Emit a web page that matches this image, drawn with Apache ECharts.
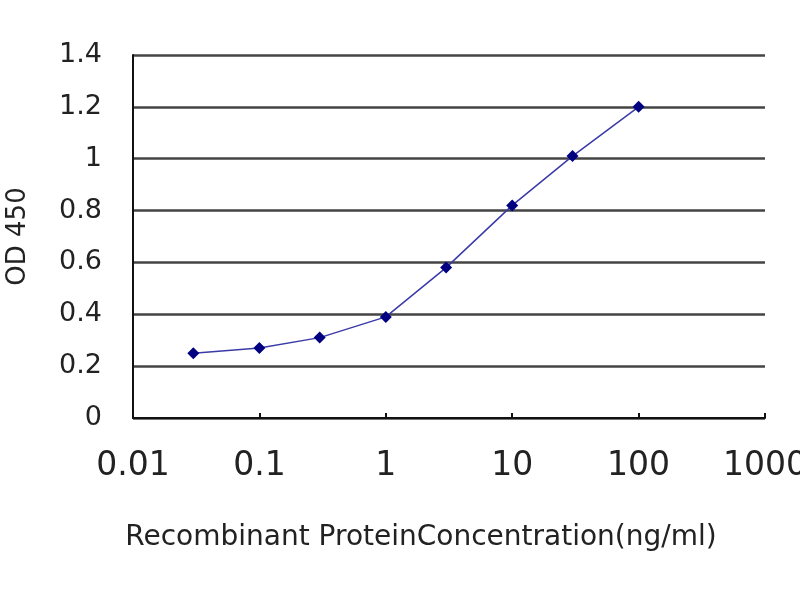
<!DOCTYPE html>
<html><head><meta charset="utf-8">
<script src="https://cdn.jsdelivr.net/npm/echarts@6/dist/echarts.min.js"></script>
<style>html,body{margin:0;padding:0;background:#fff}#c{width:800px;height:600px}</style>
</head><body><div id="c"></div>
<script>
const concentrations = [0.03, 0.1, 0.3, 1, 3, 10, 30, 100];
const odValues = [0.25, 0.27, 0.31, 0.39, 0.58, 0.82, 1.01, 1.20];
const xTickLabels = ['0.01', '0.1', '1', '10', '100', '1000'];
const yTickLabels = ['0', '0.2', '0.4', '0.6', '0.8', '1', '1.2', '1.4'];

const chart = echarts.init(document.getElementById('c'));
const font = 'DejaVu Sans, sans-serif';
chart.setOption({
  animation: false,
  grid: {left: 133, right: 35, top: 55, bottom: 182, outerBoundsMode: 'none', containLabel: false},
  xAxis: {
    type: 'log', logBase: 10, min: 0.01, max: 1000,
    name: 'Recombinant ProteinConcentration(ng/ml)',
    nameLocation: 'middle', nameGap: 106,
    nameTextStyle: {fontFamily: font, fontSize: 28, color: '#222', padding: [0, 56, 0, 0]},
    axisLine: {lineStyle: {color: '#111', width: 2}},
    axisTick: {show: true, inside: true, length: 5, lineStyle: {color: '#111', width: 2}},
    axisLabel: {
      fontFamily: font, fontSize: 33, color: '#222', margin: 32,
      formatter: function (v) {
        const i = Math.round(Math.log10(v) + 2);
        return xTickLabels[i] !== undefined ? xTickLabels[i] : '';
      }
    },
    splitLine: {show: false}
  },
  yAxis: {
    type: 'value', min: 0, max: 1.4, interval: 0.2,
    name: 'OD 450', nameLocation: 'middle', nameGap: 102, nameRotate: 90,
    nameTextStyle: {fontFamily: font, fontSize: 26, color: '#222'},
    axisLine: {show: true, lineStyle: {color: '#111', width: 2}},
    axisTick: {show: false},
    axisLabel: {
      fontFamily: font, fontSize: 27, color: '#222', margin: 31,
      formatter: function (v) {
        const i = Math.round(v / 0.2);
        return yTickLabels[i] !== undefined ? yTickLabels[i] : '';
      }
    },
    splitLine: {show: true, lineStyle: {color: '#444', width: 2.5}}
  },
  series: [{
    type: 'line',
    data: concentrations.map((c, i) => [c, odValues[i]]),
    symbol: 'diamond', symbolSize: 12,
    itemStyle: {color: '#000080'},
    lineStyle: {color: '#3a3aa8', width: 1.5}
  }]
});
</script></body></html>
